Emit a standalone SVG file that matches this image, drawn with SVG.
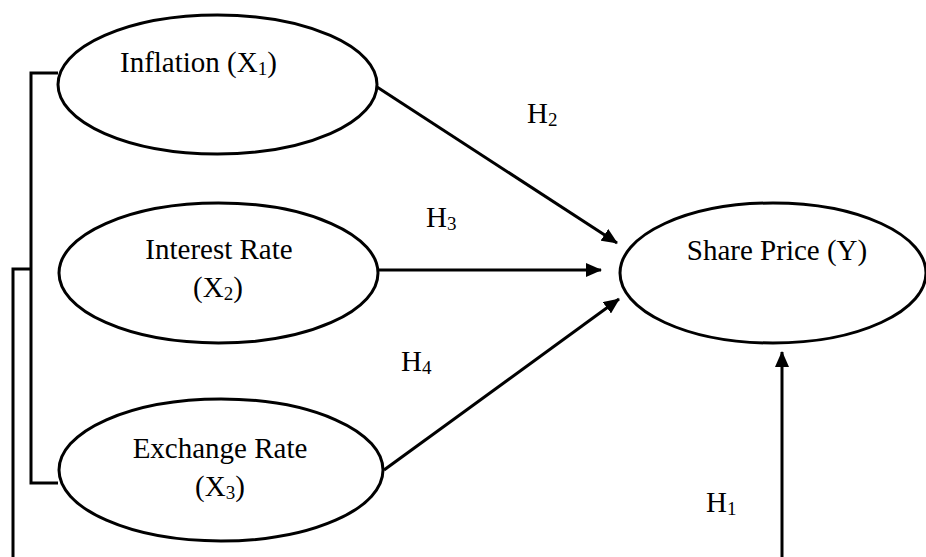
<svg xmlns="http://www.w3.org/2000/svg" width="926" height="557" viewBox="0 0 926 557">
<style>
.node ellipse{fill:#fff;stroke:#000;stroke-width:3}
text{font-family:"Liberation Serif","Times New Roman",serif;font-size:29px;fill:#000}
.sub{font-size:19px}
.c{text-anchor:middle}
#connectors line,#connectors polyline{stroke:#000;stroke-width:3;fill:none}
</style>
<defs>
<marker id="ah" markerWidth="16" markerHeight="14" refX="15" refY="7" orient="auto" markerUnits="userSpaceOnUse">
<path d="M0,0 L16,7 L0,14 Z" fill="#000"/>
</marker>
</defs>
<g id="connectors">
<polyline points="58,73 31,73 31,483 58,483"/>
<polyline points="31,269 13,269 13,557"/>
<line x1="377" y1="87" x2="617" y2="243" marker-end="url(#ah)"/>
<line x1="378" y1="270" x2="601" y2="270" marker-end="url(#ah)"/>
<line x1="384" y1="470" x2="619" y2="299" marker-end="url(#ah)"/>
<line x1="782" y1="557" x2="782" y2="352" marker-end="url(#ah)"/>
</g>
<g id="inflation" class="node">
<ellipse cx="217.5" cy="84.5" rx="159.5" ry="69.5"/>
<text x="120" y="72">Inflation (X<tspan class="sub" dy="3">1</tspan><tspan dy="-3">)</tspan></text>
</g>
<g id="interest" class="node">
<ellipse cx="218.5" cy="273" rx="159.5" ry="70"/>
<text class="c" x="219" y="259">Interest Rate</text>
<text class="c" x="218" y="297">(X<tspan class="sub" dy="3">2</tspan><tspan dy="-3">)</tspan></text>
</g>
<g id="exchange" class="node">
<ellipse cx="221" cy="470" rx="162" ry="71"/>
<text class="c" x="220" y="458">Exchange Rate</text>
<text class="c" x="220" y="496">(X<tspan class="sub" dy="3">3</tspan><tspan dy="-3">)</tspan></text>
</g>
<g id="share" class="node">
<ellipse cx="773" cy="273" rx="153" ry="70"/>
<text class="c" x="777" y="260">Share Price (Y)</text>
</g>
<g id="labels">
<text x="527" y="123">H<tspan class="sub" dy="3">2</tspan></text>
<text x="426" y="227">H<tspan class="sub" dy="3">3</tspan></text>
<text x="401" y="371">H<tspan class="sub" dy="3">4</tspan></text>
<text x="706" y="512">H<tspan class="sub" dy="3">1</tspan></text>
</g>
</svg>
